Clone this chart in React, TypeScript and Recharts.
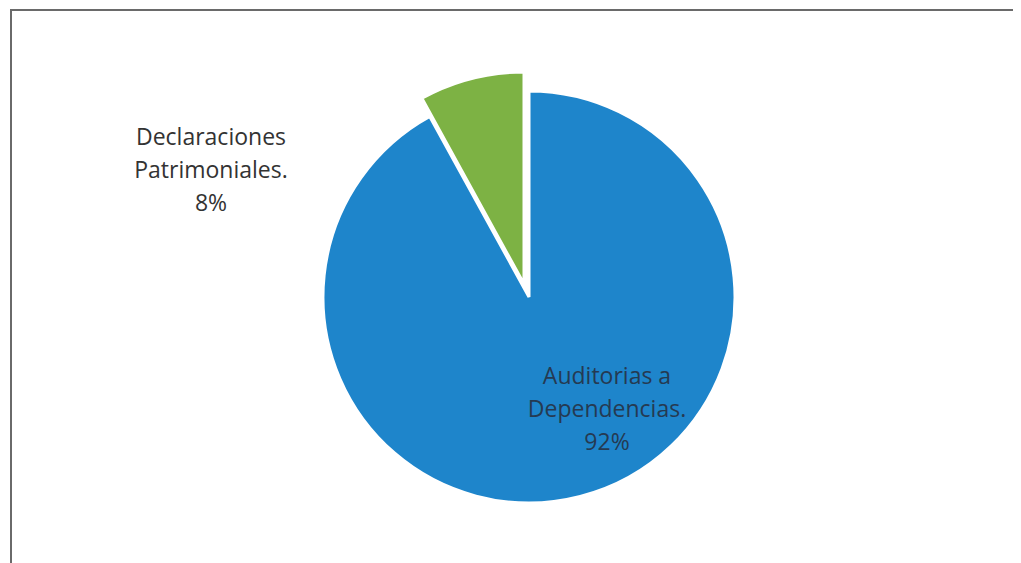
import React from "react";
import { PieChart, Pie, Cell } from "recharts";

const categories = ["Auditorias a Dependencias.", "Declaraciones Patrimoniales."];
const labelLines = [["Auditorias a", "Dependencias."], ["Declaraciones", "Patrimoniales."]];
const values = [92, 8];
const colors = ["#1e85cb", "#7db244"];

const data = categories.map((name, i) => ({ name, value: values[i] }));

const W = 1013;
const H = 555;
const FONT = "'Open Sans', 'Noto Sans', sans-serif";
const MARGIN = { top: 0, right: 0, bottom: 0, left: 0 };

// label offsets relative to the slice's pie center (middle line)
const LABEL_OFFSET: Record<number, [number, number]> = {
  0: [78, 111],
  1: [-313, -115],
};
const TEXT_COLORS = ["#253a52", "#333333"];

function makeLabel(only: number) {
  return (props: any) => {
    const { cx, cy, index, percent } = props;
    if (index !== only) return null;
    const [dx, dy] = LABEL_OFFSET[index];
    const x = cx + dx;
    const y = cy + dy;
    const lines = [...labelLines[index], `${Math.round(percent * 100)}%`];
    return (
      <text
        x={x}
        y={y}
        textAnchor="middle"
        fill={TEXT_COLORS[index]}
        fontFamily={FONT}
        fontSize={23}
      >
        {lines.map((l, k) => (
          <tspan key={k} x={x} y={y + (k - 1) * 33} dominantBaseline="central">
            {l}
          </tspan>
        ))}
      </text>
    );
  };
}

export default function App() {
  return (
    <div style={{ position: "relative", width: W, height: H, overflow: "hidden" }}>
      <div
        style={{
          position: "absolute",
          left: 2,
          top: 1,
          width: W - 2,
          height: H - 1,
          borderTop: "2px solid #6a6a6a",
          borderLeft: "2px solid #6a6a6a",
          boxSizing: "border-box",
        }}
      />
      <div style={{ position: "absolute", left: 0, top: 0 }}>
        <PieChart width={W} height={H} margin={MARGIN}>
          <Pie
            data={data}
            dataKey="value"
            nameKey="name"
            cx={521}
            cy={289}
            outerRadius={206}
            startAngle={90}
            endAngle={-270}
            stroke="#ffffff"
            strokeWidth={3}
            isAnimationActive={false}
            labelLine={false}
            label={makeLabel(0)}
          >
            {data.map((d, i) => (
              <Cell
                key={d.name}
                fill={i === 0 ? colors[0] : "none"}
                stroke={i === 0 ? "#ffffff" : "none"}
              />
            ))}
          </Pie>
          <Pie
            data={data}
            dataKey="value"
            nameKey="name"
            cx={516}
            cy={276}
            outerRadius={212}
            startAngle={90}
            endAngle={-270}
            stroke="#ffffff"
            strokeWidth={3}
            isAnimationActive={false}
            labelLine={false}
            label={makeLabel(1)}
          >
            {data.map((d, i) => (
              <Cell
                key={d.name}
                fill={i === 1 ? colors[1] : "none"}
                stroke={i === 1 ? "#ffffff" : "none"}
              />
            ))}
          </Pie>
        </PieChart>
      </div>
    </div>
  );
}
